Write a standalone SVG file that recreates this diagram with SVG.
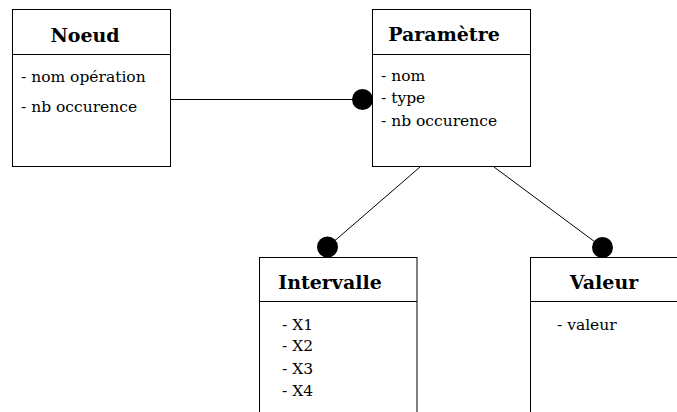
<svg xmlns="http://www.w3.org/2000/svg" width="677" height="412" viewBox="0 0 677 412">
<style>
.box{fill:#fff;stroke:#000;stroke-width:1}
.div{stroke:#000;stroke-width:1}
.title{font-family:"DejaVu Serif","Liberation Serif",serif;font-weight:bold;font-size:19px;fill:#000;text-anchor:middle}
.attr{font-family:"DejaVu Serif","Liberation Serif",serif;font-size:15.5px;fill:#000}
.conn{stroke:#000;stroke-width:1;fill:none}
.dot{fill:#000}
</style>
<rect width="677" height="412" fill="#fff"/>
<g id="connectors">
<line class="conn" x1="170" y1="99.5" x2="362.5" y2="99.5"/>
<line class="conn" x1="420" y1="167" x2="327.5" y2="247"/>
<line class="conn" x1="494" y1="167" x2="602.5" y2="247.5"/>
<circle class="dot" cx="362.5" cy="99.5" r="10.5"/>
<circle class="dot" cx="327.5" cy="247" r="10.5"/>
<circle class="dot" cx="602.5" cy="247.5" r="10.5"/>
</g>
<g id="noeud">
<rect class="box" x="12.5" y="9.5" width="158" height="157"/>
<line class="div" x1="12.5" y1="54.5" x2="170.5" y2="54.5"/>
<text class="title" x="85" y="42">Noeud</text>
<text class="attr" x="21" y="82">- nom opération</text>
<text class="attr" x="21" y="112">- nb occurence</text>
</g>
<g id="parametre">
<rect class="box" x="372.5" y="9.5" width="158" height="157"/>
<line class="div" x1="372.5" y1="54.5" x2="530.5" y2="54.5"/>
<text class="title" x="444" y="41">Paramètre</text>
<text class="attr" x="381" y="81">- nom</text>
<text class="attr" x="381" y="103">- type</text>
<text class="attr" x="381" y="125.5">- nb occurence</text>
</g>
<g id="intervalle">
<rect class="box" x="259.5" y="257.5" width="157.5" height="170"/>
<line class="div" x1="259.5" y1="301.5" x2="417" y2="301.5"/>
<text class="title" x="330" y="289">Intervalle</text>
<text class="attr" x="282" y="330">- X1</text>
<text class="attr" x="282" y="351">- X2</text>
<text class="attr" x="282" y="373.5">- X3</text>
<text class="attr" x="282" y="396">- X4</text>
</g>
<g id="valeur">
<rect class="box" x="530.5" y="257.5" width="170" height="170"/>
<line class="div" x1="530.5" y1="301.5" x2="700" y2="301.5"/>
<text class="title" x="604" y="289">Valeur</text>
<text class="attr" x="557" y="329.5">- valeur</text>
</g>
</svg>
